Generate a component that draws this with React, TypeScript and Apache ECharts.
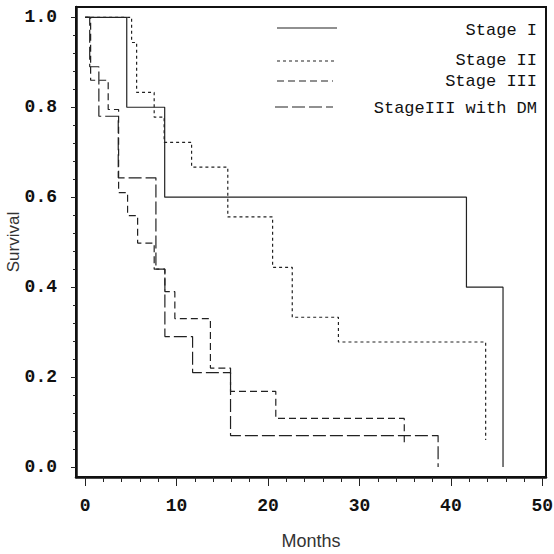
import React, { useEffect, useRef } from 'react';
import * as echarts from 'echarts';

// Kaplan-Meier step curves: [month, survival after event]
const stageI: number[][] = [[0, 1], [4.55, 0.8], [8.7, 0.6], [41.7, 0.4], [45.7, 0]];
const stageII: number[][] = [
  [0, 1], [5.08, 0.944], [5.63, 0.833], [7.55, 0.778], [8.64, 0.722], [11.64, 0.667],
  [15.6, 0.556], [20.5, 0.444], [22.65, 0.333], [27.7, 0.278], [43.8, 0.06],
];
const stageIII: number[][] = [
  [0, 1], [0.6, 0.86], [2.52, 0.795], [3.66, 0.61], [4.64, 0.559], [5.74, 0.498],
  [7.55, 0.44], [8.72, 0.39], [9.81, 0.33], [13.7, 0.22], [15.9, 0.168], [20.85, 0.108], [34.9, 0.055],
];
const stageIIIdm: number[][] = [
  [0, 1], [0.5, 0.89], [1.5, 0.78], [3.62, 0.643], [7.74, 0.44], [8.72, 0.29],
  [11.75, 0.21], [15.9, 0.07], [38.6, 0],
];

const seriesNames = ['Stage I', 'Stage II', 'Stage III', 'StageIII with DM'];
const xMajor = [0, 10, 20, 30, 40, 50];
const xMinor = [2, 4, 6, 8, 12, 14, 16, 18, 22, 24, 26, 28, 32, 34, 36, 38, 42, 44, 46, 48];
const yMajor = [0, 0.2, 0.4, 0.6, 0.8, 1.0];
const yMinor = [0.04, 0.08, 0.12, 0.16, 0.24, 0.28, 0.32, 0.36, 0.44, 0.48, 0.52, 0.56, 0.64, 0.68, 0.72, 0.76, 0.84, 0.88, 0.92, 0.96];

const INK = '#222';
const MONO = '"Liberation Mono", "DejaVu Sans Mono", monospace';
const SANS = '"Liberation Sans", Arial, sans-serif';

const dashes: (number[] | 'solid')[] = ['solid', [3, 3], [7, 4], [13, 4]];

export default function App() {
  const ref = useRef<HTMLDivElement>(null);
  useEffect(() => {
    if (!ref.current) return;
    const chart = echarts.init(ref.current, undefined, { renderer: 'svg' });
    const data = [stageI, stageII, stageIII, stageIIIdm];
    const xBase = { type: 'value' as const, min: -1, max: 50.4, splitLine: { show: false } };
    const yBase = { type: 'value' as const, min: -0.0222, max: 1.0229, splitLine: { show: false } };
    const legendY = [28, 61, 81, 107];
    const legendX2 = [337, 337, 333, 333];
    const legendTextY = [30, 60.5, 81.5, 108];
    const graphic: any[] = [];
    seriesNames.forEach((name, i) => {
      graphic.push({
        type: 'line',
        shape: { x1: i === 3 ? 275 : 277, y1: legendY[i], x2: legendX2[i], y2: legendY[i] },
        style: { stroke: INK, lineWidth: 1.2, lineDash: dashes[i] === 'solid' ? null : dashes[i] },
      });
      graphic.push({
        type: 'text',
        x: 537,
        y: legendTextY[i],
        style: {
          text: name, align: 'right', verticalAlign: 'middle',
          fontFamily: MONO, fontSize: 17, lineHeight: 17, fill: '#111',
        },
      });
    });
    chart.setOption({
      animation: false,
      backgroundColor: '#fff',
      grid: {
        left: 76, right: 8, top: 7, bottom: 77, show: true, borderColor: '#111', borderWidth: 2,
        outerBoundsMode: 'none', containLabel: false,
      },
      xAxis: [
        {
          ...xBase,
          position: 'bottom',
          name: 'Months', nameLocation: 'middle', nameGap: 55, nameMoveOverlap: false,
          nameTextStyle: { fontFamily: SANS, fontSize: 18, color: '#333' },
          axisLine: { show: true, onZero: false, lineStyle: { color: '#111', width: 2.5 } },
          axisTick: { show: true, customValues: xMajor, length: 9, lineStyle: { color: INK, width: 1 } },
          axisLabel: {
            customValues: xMajor, margin: 20, fontFamily: MONO, fontSize: 18, fontWeight: 'bold', color: '#111',
            formatter: (v: number) => String(Math.round(v)),
          },
        },
        {
          ...xBase,
          position: 'bottom',
          axisLine: { show: false, onZero: false },
          axisTick: { show: true, customValues: xMinor, length: 5, lineStyle: { color: INK, width: 1 } },
          axisLabel: { show: false },
        },
      ],
      yAxis: [
        {
          ...yBase,
          position: 'left',
          name: 'Survival', nameLocation: 'middle', nameGap: 54, nameMoveOverlap: false,
          nameTextStyle: { fontFamily: SANS, fontSize: 17, color: '#333' },
          axisLine: { show: true, onZero: false, lineStyle: { color: '#111', width: 2.5 } },
          axisTick: { show: true, customValues: yMajor, length: 5, lineStyle: { color: INK, width: 1 } },
          axisLabel: {
            customValues: yMajor, margin: 19, fontFamily: MONO, fontSize: 18, fontWeight: 'bold', color: '#111',
            formatter: (v: number) => v.toFixed(1),
          },
        },
        {
          ...yBase,
          position: 'left',
          axisLine: { show: false, onZero: false },
          axisTick: { show: true, customValues: yMinor, length: 3, lineStyle: { color: INK, width: 1 } },
          axisLabel: { show: false },
        },
      ],
      series: seriesNames.map((name, i) => ({
        name,
        type: 'line',
        step: 'end',
        xAxisIndex: 0,
        yAxisIndex: 0,
        data: data[i],
        showSymbol: false,
        symbol: 'none',
        lineStyle: { color: INK, width: 1.2, type: dashes[i] },
      })),
      graphic,
    });
    return () => chart.dispose();
  }, []);
  return <div ref={ref} style={{ position: 'fixed', left: 0, top: 0, width: 554, height: 554 }} />;
}
